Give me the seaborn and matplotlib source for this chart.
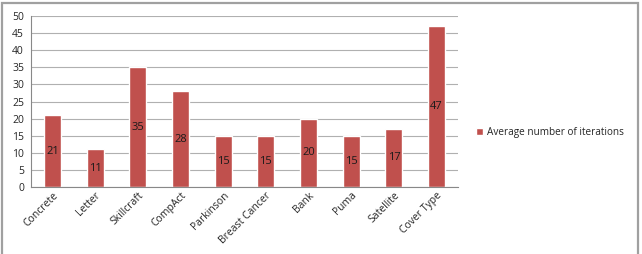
import matplotlib.pyplot as plt
import numpy as np
import pandas as pd
import seaborn as sns
from matplotlib.patches import Rectangle

datasets = ['Concrete', 'Letter', 'Skillcraft', 'CompAct', 'Parkinson',
            'Breast Cancer', 'Bank', 'Puma', 'Satellite', 'Cover Type']
iterations = [21, 11, 35, 28, 15, 15, 20, 15, 17, 47]
series_name = 'Average number of iterations'

df = pd.DataFrame({'dataset': datasets, 'iterations': iterations})

sns.set_style('white')
plt.rcParams['font.family'] = ['Open Sans', 'DejaVu Sans']

fig = plt.figure(figsize=(6.42, 2.54), dpi=100)
ax = fig.add_axes([31 / 642, 1 - 187 / 254, 427 / 642, 171 / 254])

bar_color = '#C0504D'
sns.barplot(data=df, x='dataset', y='iterations', color=bar_color,
            width=0.4, saturation=1, ax=ax, label=series_name)

# value labels in the middle of each bar
ax.bar_label(ax.containers[0], label_type='center', fontsize=8, color='#1a1a1a')

ax.set_ylim(0, 50)
ax.set_yticks(np.arange(0, 51, 5))
ax.set_xlim(-0.5, len(datasets) - 0.5)
ax.set_xlabel('')
ax.set_ylabel('')
ax.yaxis.grid(True, color='#b0b0b0', linewidth=0.8)
ax.set_axisbelow(True)

# ticks between categories on the x axis
ax.set_xticks(np.arange(-0.5, len(datasets), 1), minor=True)
ax.tick_params(axis='x', which='minor', length=3, color='#888888', width=0.8)
ax.tick_params(axis='x', which='major', length=0, labelsize=7.5, pad=2)
ax.set_xticklabels(datasets, rotation=45, ha='right', rotation_mode='anchor')
ax.tick_params(axis='y', length=3, color='#888888', labelsize=7.5, pad=2)

for s in ['top', 'right']:
    ax.spines[s].set_visible(False)
for s in ['left', 'bottom']:
    ax.spines[s].set_color('#888888')
    ax.spines[s].set_linewidth(0.8)

leg = ax.legend(loc='center left', bbox_to_anchor=(1.02, 0.32), frameon=False,
                fontsize=7.2, handlelength=0.7, handleheight=0.7, handletextpad=0.4)

# outer chart border (bottom edge falls outside the picture)
fig.patches.append(Rectangle((2 / 642, -0.02), 636 / 642, 1.02 - 3 / 254,
                             transform=fig.transFigure, fill=False,
                             edgecolor='#a0a0a0', linewidth=1.6))

fig.savefig('out.png', dpi=100)
